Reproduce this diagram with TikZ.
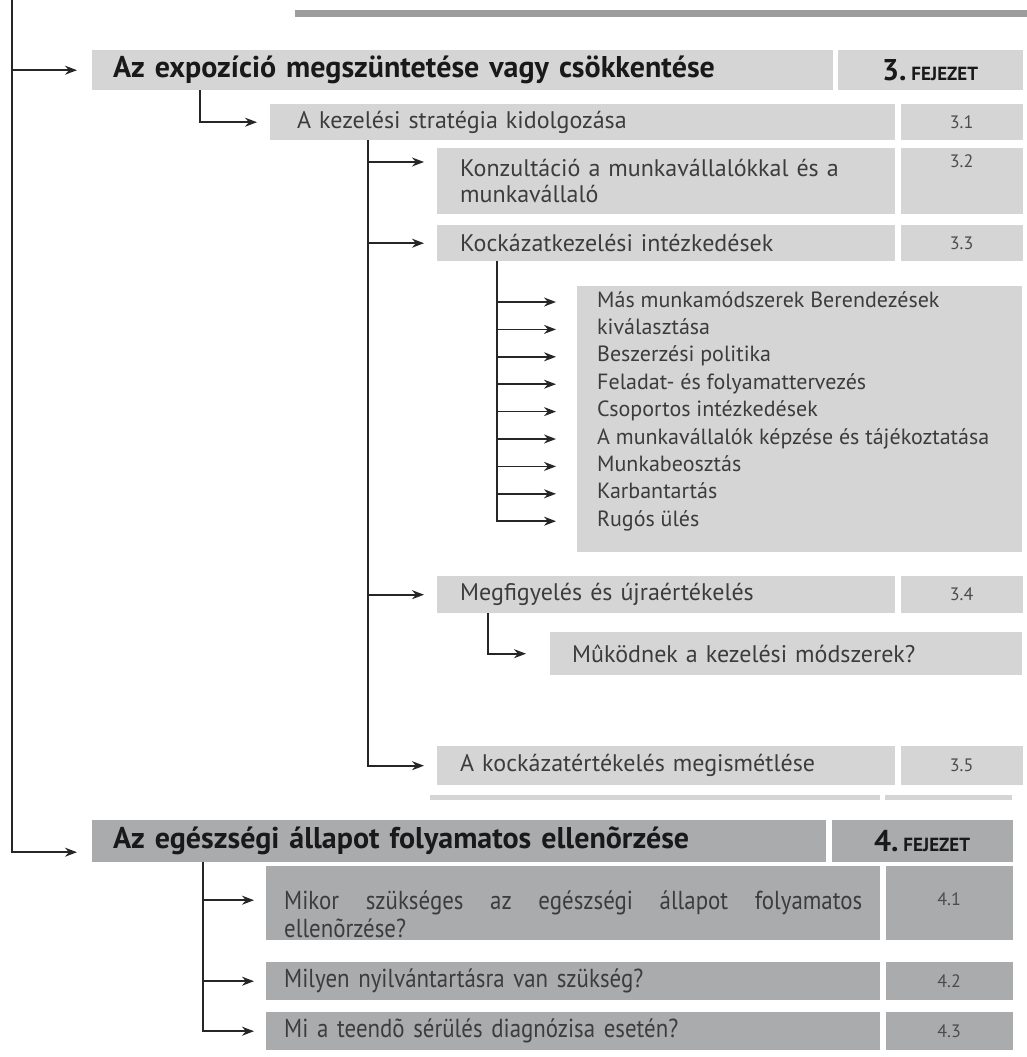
\documentclass[tikz,border=0pt]{standalone}
\usepackage{fontspec}
\setmainfont{PT Sans}
\newfontfamily\condfont[FakeStretch=0.88]{PT Sans}
\usetikzlibrary{positioning, arrows.meta, calc, fit, backgrounds}
\definecolor{lightgr}{HTML}{D5D5D6}
\definecolor{darkgr}{HTML}{AAABAD}
\definecolor{bargr}{HTML}{9D9D9D}
\definecolor{txtgr}{HTML}{3C3C3C}
\newcommand\bodysize{\fontsize{24}{26}\selectfont}
\newcommand\condsize{\condfont\fontsize{26}{28}\selectfont}
\newcommand\headsize{\bfseries\fontsize{30}{30}\selectfont}
\newcommand\fejsize{\fontsize{19}{19}\selectfont}
\newcommand\numsize{\fontsize{18}{18}\selectfont}
\newcommand\listsize{\fontsize{22}{26}\selectfont}

\begin{document}
\begin{tikzpicture}[x=1pt, y=-1pt,
    box/.style={anchor=north west, fill=lightgr, inner xsep=23pt, inner ysep=0pt, align=left, text=txtgr, font=\bodysize},
    dbox/.style={box, fill=darkgr, inner xsep=18pt, font=\condsize},
    head/.style={box, inner xsep=21pt, text=black!90, font=\headsize},
    num/.style={fill=lightgr, inner sep=0pt, text=black!70, font=\numsize},
    li/.style={anchor=west, inner sep=0pt, text height=15pt, text depth=5pt, text=txtgr, font=\listsize},
    arr/.style={-{Stealth[length=12pt, width=9pt]}, line width=1.6pt, black!85, shorten >=13pt}]
\useasboundingbox (0,0) rectangle (1027,1057);

\fill[bargr] (295,10) rectangle (1027,17);

% chapter 3
\node[head, text width=699pt, minimum height=40pt] (h3) at (92,50) {Az expozíció megszüntetése vagy csökkentése};
\node[num, minimum width=185pt, minimum height=40pt, right=4pt of h3, text=black!90, font=\headsize] (h3n) {3.\,{\fejsize FEJEZET}};

\node[box, inner xsep=27pt, text width=571pt, minimum height=36pt] (s31) at (270,104) {A kezelési stratégia kidolgozása};
\node[num, minimum width=122pt, minimum height=36pt, right=5pt of s31] (n31) {3.1};

\node[box, text width=412pt, minimum height=66pt] (s32) at (437,148) {Konzultáció a munkavállalókkal és a\\munkavállaló};
\node[num, minimum width=122pt, text height=19pt, text depth=47pt, right=5pt of s32] (n32) {3.2};

\node[box, text width=412pt, minimum height=36pt] (s33) at (437,225) {Kockázatkezelési intézkedések};
\node[num, minimum width=122pt, minimum height=36pt, right=5pt of s33] (n33) {3.3};

\node[box, minimum width=445pt, minimum height=266pt] (lst) at (577,286) {};
\foreach \t [count=\k from 0] in {Más munkamódszerek Berendezések, kiválasztása, Beszerzési politika,
    Feladat- és folyamattervezés, Csoportos intézkedések, A munkavállalók képzése és tájékoztatása,
    Munkabeosztás, Karbantartás, Rugós ülés}
  \node[li] (l\k) at ([xshift=20pt, yshift={-16pt-\k*27.4pt}]lst.north west) {\t};

\node[box, text width=412pt, minimum height=37pt] (s34) at (437,576) {Megfigyelés és újraértékelés};
\node[num, minimum width=122pt, minimum height=37pt, right=5pt of s34] (n34) {3.4};

\node[box, inner xsep=22pt, text width=428pt, minimum height=43pt] (s341) at (550,632) {Mûködnek a kezelési módszerek?};

\node[box, text width=412pt, minimum height=39pt] (s35) at (437,746) {A kockázatértékelés megismétlése};
\node[num, minimum width=122pt, minimum height=39pt, right=5pt of s35] (n35) {3.5};

\fill[lightgr] (430,795) rectangle (880,800);
\fill[lightgr] (885,795) rectangle (1012,800);

% chapter 4
\node[head, fill=darkgr, text width=692pt, minimum height=42pt] (h4) at (92,820) {Az egészségi állapot folyamatos ellenõrzése};
\node[num, fill=darkgr, minimum width=181pt, minimum height=42pt, right=5pt of h4, text=black!90, font=\headsize] (h4n) {4.\,{\fejsize FEJEZET}};

\node[dbox, text width=578pt, minimum height=74pt] (s41) at (266,866) {\rule{0pt}{40pt}\hbox to 578pt{Mikor\hfill szükséges\hfill az\hfill egészségi\hfill állapot\hfill folyamatos}\\ellenõrzése?};
\node[num, fill=darkgr, minimum width=127pt, text height=39pt, text depth=35pt, right=5pt of s41] (n41) {4.1};

\node[dbox, text width=578pt, minimum height=38pt] (s42) at (266,962) {Milyen nyilvántartásra van szükség?};
\node[num, fill=darkgr, minimum width=127pt, minimum height=38pt, right=5pt of s42] (n42) {4.2};

\node[dbox, text width=578pt, minimum height=38pt] (s43) at (266,1012) {Mi a teendõ sérülés diagnózisa esetén?};
\node[num, fill=darkgr, minimum width=127pt, minimum height=38pt, right=5pt of s43] (n43) {4.3};

% connectors
\coordinate (root) at (12,0);
\draw[arr, shorten >=15pt] (root) |- (h3.west);
\draw[arr, shorten >=15pt] (root) |- ([yshift=-11pt]h4.west);

\draw[arr] ([xshift=108pt]h3.south west) |- (s31.west);

\coordinate (t31) at ([xshift=98pt]s31.south west);
\draw[arr] (t31) |- ([yshift=-14pt]s32.north west);
\foreach \n in {s33,s34,s35}
  \draw[arr] (t31) |- (\n.west);

\coordinate (t33) at ([xshift=60pt]s33.south west);
\foreach \k in {0,...,8}
  \draw[arr, shorten >=21pt] (t33) |- (lst.west |- l\k.west);

\draw[arr, shorten >=24pt] ([xshift=51pt]s34.south west) |- (s341.west);

\coordinate (t4) at ([xshift=111pt]h4.south west);
\draw[arr, shorten >=12pt] (t4) |- ([yshift=3pt]s41.west);
\foreach \n in {s42,s43}
  \draw[arr, shorten >=12pt] (t4) |- (\n.west);
\end{tikzpicture}
\end{document}
